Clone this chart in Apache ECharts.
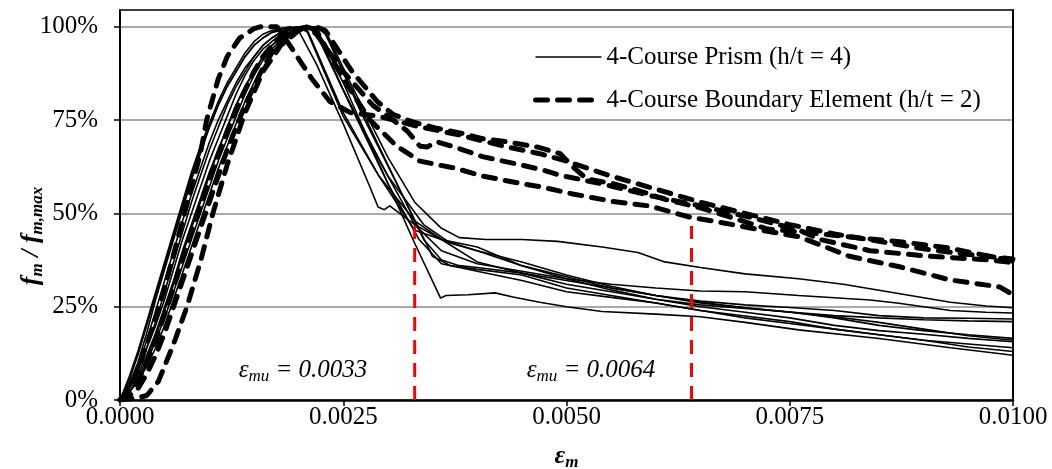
<!DOCTYPE html>
<html>
<head>
<meta charset="utf-8">
<script src="https://cdn.jsdelivr.net/npm/echarts@6/dist/echarts.min.js"></script>
<style>
  html, body { margin: 0; padding: 0; background: #fff; }
  #chart { width: 1052px; height: 469px; }
</style>
</head>
<body>
<div id="chart"></div>
<script>
// Axis ticks
const xTicks = [0, 0.0025, 0.005, 0.0075, 0.01];
const yTicks = [0, 0.25, 0.5, 0.75, 1];

const prismName = '4-Course Prism (h/t = 4)';
const boundaryName = '4-Course Boundary Element (h/t = 2)';

// Normalised stress–strain curves, 4-course prisms (h/t = 4): [strain, fm/fm,max]
const prism1 = [[0,0],[0.0001,0.04],[0.0002,0.1],[0.0003,0.18],[0.0004,0.27],[0.0005,0.35],[0.0006,0.43],[0.0007,0.51],[0.0008,0.59],[0.0009,0.66],[0.001,0.73],[0.0011,0.79],[0.0012,0.84],[0.0013,0.88],[0.0014,0.92],[0.0015,0.95],[0.0016,0.97],[0.0017,0.985],[0.0018,0.995],[0.0019,1.0],[0.002,0.99],[0.0022,0.9],[0.0025,0.74],[0.0028,0.57],[0.00289,0.517],[0.00296,0.51],[0.00302,0.52],[0.0033,0.47],[0.0036,0.43],[0.004,0.37],[0.0045,0.34],[0.005,0.32],[0.0055,0.3],[0.006,0.28],[0.0065,0.262],[0.007,0.247],[0.0075,0.235],[0.008,0.223],[0.0085,0.208],[0.009,0.19],[0.0095,0.172],[0.01,0.16]];
const prism2 = [[0,0],[0.0001,0.02],[0.0002,0.05],[0.0003,0.09],[0.0004,0.14],[0.0005,0.2],[0.0006,0.27],[0.0007,0.34],[0.0008,0.41],[0.0009,0.48],[0.001,0.55],[0.0011,0.62],[0.0012,0.68],[0.0013,0.74],[0.0014,0.8],[0.0015,0.85],[0.0016,0.89],[0.0017,0.93],[0.0018,0.96],[0.0019,0.98],[0.002,0.99],[0.0021,1.0],[0.0022,0.995],[0.0025,0.85],[0.003,0.58],[0.0033,0.42],[0.00359,0.273],[0.00365,0.28],[0.0039,0.282],[0.0042,0.287],[0.0044,0.276],[0.0047,0.262],[0.005,0.25],[0.0054,0.237],[0.006,0.23],[0.0065,0.223],[0.007,0.208],[0.0076,0.188],[0.0085,0.165],[0.0093,0.14],[0.01,0.12]];
const prism3 = [[0,0],[0.0001,0.03],[0.0002,0.07],[0.0003,0.12],[0.0004,0.18],[0.0005,0.25],[0.0006,0.32],[0.0007,0.4],[0.0008,0.47],[0.0009,0.54],[0.001,0.61],[0.0011,0.67],[0.0012,0.73],[0.0013,0.79],[0.0014,0.84],[0.0015,0.88],[0.0016,0.92],[0.0017,0.95],[0.0018,0.97],[0.0019,0.985],[0.002,0.995],[0.0022,1.0],[0.0023,0.99],[0.0026,0.84],[0.003,0.65],[0.0033,0.53],[0.0036,0.46],[0.0038,0.435],[0.0041,0.43],[0.0045,0.43],[0.0049,0.425],[0.0054,0.41],[0.0058,0.395],[0.0061,0.37],[0.0065,0.355],[0.007,0.338],[0.0076,0.325],[0.0081,0.31],[0.0086,0.29],[0.0093,0.262],[0.0097,0.252],[0.01,0.247]];
const prism4 = [[0,0],[0.0001,0.03],[0.0002,0.08],[0.0003,0.14],[0.0004,0.21],[0.0005,0.29],[0.0006,0.37],[0.0007,0.45],[0.0008,0.53],[0.0009,0.6],[0.001,0.67],[0.0011,0.73],[0.0012,0.79],[0.0013,0.84],[0.0014,0.88],[0.0015,0.92],[0.0016,0.95],[0.0017,0.97],[0.0018,0.985],[0.0019,0.995],[0.0021,1.0],[0.0022,0.99],[0.0025,0.83],[0.003,0.6],[0.0033,0.47],[0.0036,0.4],[0.004,0.365],[0.0045,0.345],[0.005,0.325],[0.0055,0.31],[0.006,0.3],[0.0065,0.292],[0.007,0.29],[0.0076,0.28],[0.0084,0.268],[0.0087,0.26],[0.0093,0.24],[0.0097,0.235],[0.01,0.233]];
const prism5 = [[0,0],[0.0001,0.04],[0.0002,0.09],[0.0003,0.16],[0.0004,0.24],[0.0005,0.32],[0.0006,0.4],[0.0007,0.48],[0.0008,0.55],[0.0009,0.62],[0.001,0.69],[0.0011,0.75],[0.0012,0.8],[0.0013,0.85],[0.0014,0.89],[0.0015,0.92],[0.0016,0.95],[0.0017,0.97],[0.0018,0.985],[0.0019,0.995],[0.0021,1.0],[0.0022,0.98],[0.0026,0.78],[0.003,0.6],[0.0034,0.47],[0.0037,0.42],[0.004,0.4],[0.0045,0.37],[0.005,0.335],[0.0055,0.305],[0.006,0.28],[0.0065,0.265],[0.007,0.255],[0.0075,0.248],[0.008,0.24],[0.0085,0.226],[0.009,0.22],[0.0095,0.219],[0.01,0.217]];
const prism6 = [[0,0],[0.0001,0.05],[0.0002,0.12],[0.0003,0.2],[0.0004,0.28],[0.0005,0.36],[0.0006,0.44],[0.0007,0.52],[0.0008,0.6],[0.0009,0.67],[0.001,0.73],[0.0011,0.79],[0.0012,0.84],[0.0013,0.88],[0.0014,0.92],[0.0015,0.95],[0.0016,0.97],[0.0017,0.985],[0.0019,0.995],[0.002,1.0],[0.0021,0.99],[0.0025,0.77],[0.0029,0.6],[0.0033,0.48],[0.0036,0.43],[0.004,0.41],[0.0045,0.36],[0.005,0.325],[0.0055,0.295],[0.006,0.27],[0.0065,0.25],[0.007,0.235],[0.0075,0.22],[0.008,0.2],[0.0085,0.186],[0.009,0.176],[0.0095,0.165],[0.01,0.156]];
const prism7 = [[0,0],[0.0001,0.02],[0.0002,0.06],[0.0003,0.11],[0.0004,0.17],[0.0005,0.24],[0.0006,0.31],[0.0007,0.39],[0.0008,0.46],[0.0009,0.53],[0.001,0.6],[0.0011,0.67],[0.0012,0.73],[0.0013,0.79],[0.0014,0.84],[0.0015,0.88],[0.0016,0.92],[0.0017,0.95],[0.0018,0.97],[0.0019,0.985],[0.002,0.995],[0.0022,1.0],[0.0023,0.985],[0.0027,0.77],[0.0031,0.58],[0.0034,0.43],[0.0036,0.375],[0.0038,0.36],[0.004,0.355],[0.0045,0.34],[0.005,0.31],[0.0055,0.29],[0.006,0.27],[0.0065,0.255],[0.007,0.245],[0.0075,0.236],[0.008,0.226],[0.0085,0.22],[0.009,0.215],[0.0095,0.212],[0.01,0.21]];
const prism8 = [[0,0],[0.0001,0.02],[0.0002,0.05],[0.0003,0.1],[0.0004,0.16],[0.0005,0.22],[0.0006,0.29],[0.0007,0.36],[0.0008,0.43],[0.0009,0.5],[0.001,0.57],[0.0011,0.64],[0.0012,0.7],[0.0013,0.76],[0.0014,0.82],[0.0015,0.87],[0.0016,0.91],[0.0017,0.94],[0.0018,0.965],[0.0019,0.98],[0.002,0.99],[0.0022,1.0],[0.0023,0.98],[0.0027,0.78],[0.0031,0.58],[0.0035,0.385],[0.0037,0.36],[0.004,0.35],[0.0045,0.335],[0.005,0.3],[0.0055,0.28],[0.006,0.26],[0.0065,0.24],[0.007,0.225],[0.0075,0.21],[0.008,0.19],[0.0085,0.175],[0.009,0.16],[0.0095,0.15],[0.01,0.14]];
const prism9 = [[0,0],[0.0001,0.03],[0.0002,0.08],[0.0003,0.14],[0.0004,0.2],[0.0005,0.27],[0.0006,0.35],[0.0007,0.43],[0.0008,0.5],[0.0009,0.57],[0.001,0.64],[0.0011,0.7],[0.0012,0.76],[0.0013,0.82],[0.0014,0.87],[0.0015,0.91],[0.0016,0.94],[0.0017,0.96],[0.0018,0.98],[0.0019,0.99],[0.0021,1.0],[0.0022,0.985],[0.0026,0.78],[0.003,0.58],[0.00335,0.43],[0.0036,0.365],[0.004,0.345],[0.0045,0.32],[0.005,0.29],[0.0055,0.275],[0.006,0.26],[0.0065,0.24],[0.007,0.22],[0.0075,0.205],[0.008,0.19],[0.0085,0.175],[0.009,0.16],[0.0095,0.142],[0.01,0.13]];
const prism10 = [[0,0],[0.0001,0.06],[0.0002,0.13],[0.0003,0.21],[0.0004,0.29],[0.0005,0.37],[0.0006,0.45],[0.0007,0.53],[0.0008,0.61],[0.0009,0.68],[0.001,0.74],[0.0011,0.8],[0.0012,0.85],[0.0013,0.89],[0.0014,0.93],[0.0015,0.96],[0.0016,0.98],[0.0017,0.99],[0.0018,0.995],[0.002,1.0],[0.0021,0.985],[0.0025,0.76],[0.0029,0.6],[0.0033,0.455],[0.0036,0.43],[0.004,0.4],[0.0045,0.36],[0.005,0.33],[0.0055,0.3],[0.006,0.28],[0.0065,0.26],[0.007,0.247],[0.0075,0.236],[0.008,0.22],[0.0085,0.2],[0.009,0.186],[0.0095,0.175],[0.01,0.165]];

// Normalised stress–strain curves, 4-course boundary elements (h/t = 2)
const boundary1 = [[0,0],[0.0001,0.01],[0.0002,0.03],[0.0003,0.07],[0.0004,0.12],[0.0005,0.18],[0.0006,0.25],[0.0007,0.32],[0.0008,0.39],[0.0009,0.46],[0.001,0.53],[0.0011,0.6],[0.0012,0.67],[0.0013,0.73],[0.0014,0.79],[0.0015,0.84],[0.0016,0.89],[0.0017,0.93],[0.0018,0.96],[0.0019,0.98],[0.002,0.995],[0.0022,1.0],[0.0023,0.99],[0.0026,0.88],[0.00288,0.8],[0.00306,0.765],[0.00328,0.745],[0.00355,0.728],[0.00384,0.714],[0.00406,0.7],[0.00433,0.692],[0.00467,0.678],[0.00493,0.66],[0.00507,0.625],[0.00523,0.592],[0.00552,0.58],[0.00582,0.56],[0.00613,0.536],[0.0065,0.515],[0.00686,0.488],[0.00725,0.458],[0.00773,0.448],[0.00817,0.437],[0.00873,0.424],[0.00929,0.407],[0.00974,0.385],[0.01,0.372]];
const boundary2 = [[0,0],[0.0001,0.02],[0.0002,0.05],[0.0003,0.1],[0.0004,0.16],[0.0005,0.23],[0.0006,0.3],[0.0007,0.38],[0.0008,0.45],[0.0009,0.52],[0.001,0.59],[0.0011,0.66],[0.0012,0.72],[0.0013,0.78],[0.0014,0.83],[0.0015,0.88],[0.0016,0.92],[0.0017,0.95],[0.0018,0.975],[0.0019,0.99],[0.0021,1.0],[0.0022,0.98],[0.0025,0.88],[0.00283,0.79],[0.00306,0.75],[0.00322,0.72],[0.00336,0.68],[0.00344,0.678],[0.00355,0.692],[0.00377,0.676],[0.00406,0.652],[0.00445,0.632],[0.00474,0.616],[0.00493,0.602],[0.00538,0.58],[0.00593,0.548],[0.0065,0.52],[0.00705,0.49],[0.00761,0.455],[0.00784,0.43],[0.0084,0.4],[0.00907,0.385],[0.00974,0.375],[0.01,0.368]];
const boundary3 = [[0,0],[0.0001,0.003],[0.0002,0.006],[0.0003,0.012],[0.00043,0.05],[0.0006,0.15],[0.00075,0.25],[0.0009,0.37],[0.00104,0.5],[0.0012,0.63],[0.0014,0.77],[0.0016,0.88],[0.0018,0.95],[0.002,0.99],[0.0021,1.0],[0.0022,0.99],[0.0025,0.86],[0.0028,0.75],[0.0031,0.68],[0.00336,0.64],[0.00377,0.62],[0.00406,0.6],[0.00445,0.582],[0.00474,0.57],[0.00507,0.552],[0.00552,0.532],[0.00593,0.52],[0.00638,0.49],[0.00686,0.47],[0.00725,0.452],[0.00761,0.437],[0.00817,0.385],[0.00873,0.357],[0.00929,0.322],[0.00985,0.303],[0.01,0.282]];
const boundary4 = [[0,0],[0.0001,0.03],[0.0002,0.08],[0.0003,0.15],[0.0004,0.22],[0.0005,0.3],[0.0006,0.39],[0.0007,0.48],[0.0008,0.57],[0.0009,0.66],[0.00097,0.75],[0.0011,0.86],[0.0012,0.92],[0.00134,0.97],[0.0015,0.995],[0.00157,1.0],[0.00176,1.0],[0.00193,0.94],[0.00215,0.86],[0.00235,0.8],[0.00258,0.77],[0.0029,0.76],[0.0033,0.735],[0.0038,0.71],[0.0043,0.68],[0.0047,0.66],[0.005,0.64],[0.0055,0.6],[0.006,0.565],[0.0065,0.53],[0.007,0.5],[0.0075,0.47],[0.008,0.445],[0.0085,0.425],[0.009,0.405],[0.0095,0.39],[0.01,0.378]];

// Ultimate strain markers
const limitStrains = [0.0033, 0.0064];
const limitLevels = [0.466, 0.466];
const limitLabels = ['0.0033', '0.0064'];

const prismCurves = [prism1, prism2, prism3, prism4, prism5, prism6, prism7, prism8, prism9, prism10];
const boundaryCurves = [boundary1, boundary2, boundary3, boundary4];

const FONT = "'Liberation Serif', 'Times New Roman', serif";

const prismLine = { color: '#000', width: 1.6 };
const boundaryLine = { color: '#000', width: 5, type: [12, 10], cap: 'round' };

const series = [];
prismCurves.forEach(d => series.push({
  type: 'line', name: prismName, data: d, symbol: 'none', silent: true, z: 3,
  itemStyle: { color: '#000' }, lineStyle: prismLine
}));
boundaryCurves.forEach(d => series.push({
  type: 'line', name: boundaryName, data: d, symbol: 'none', silent: true, z: 4,
  itemStyle: { color: '#000' }, lineStyle: boundaryLine
}));
limitStrains.forEach((s, i) => series.push({
  type: 'line', name: 'limit' + i, data: [[s, 0], [s, limitLevels[i]]], symbol: 'none', silent: true, z: 5,
  lineStyle: { color: '#ff0000', width: 3, type: [14, 9] }
}));

const eRich = {
  e: { fontFamily: FONT, fontStyle: 'italic', fontSize: 25, fill: '#000', lineHeight: 30 },
  s: { fontFamily: FONT, fontStyle: 'italic', fontSize: 17, fill: '#000', lineHeight: 14, verticalAlign: 'bottom' }
};

const chart = echarts.init(document.getElementById('chart'), null, { renderer: 'canvas' });
chart.setOption({
  animation: false,
  backgroundColor: '#fff',
  grid: { left: 120, right: 39, top: 10, bottom: 69, containLabel: false, outerBoundsMode: 'none' },
  legend: {
    left: 533, top: 42, orient: 'vertical', padding: 0,
    itemWidth: 66, itemHeight: 14, itemGap: 13,
    selectedMode: false,
    itemStyle: { opacity: 0 },
    data: [
      { name: prismName, lineStyle: { color: '#000', width: 1.6, type: 'solid' } },
      { name: boundaryName, lineStyle: { color: '#000', width: 5, type: [12, 10], cap: 'round' } }
    ],
    textStyle: { fontFamily: FONT, fontSize: 25, color: '#000', lineHeight: 30 }
  },
  xAxis: [{
    type: 'value', min: xTicks[0], max: xTicks[xTicks.length - 1], interval: xTicks[1] - xTicks[0],
    position: 'bottom',
    axisLine: { show: true, onZero: false, lineStyle: { color: '#000', width: 2.5 } },
    axisTick: { show: true, inside: false, length: 6, lineStyle: { color: '#000', width: 1.5 } },
    axisLabel: { formatter: v => v.toFixed(4), fontFamily: FONT, fontSize: 25, color: '#000', margin: 5 },
    splitLine: { show: false },
    name: '{e|ε}{s|m}', nameLocation: 'middle', nameGap: 41,
    nameTextStyle: {
      rich: {
        e: { fontFamily: FONT, fontStyle: 'italic', fontWeight: 'bold', fontSize: 26, color: '#000', lineHeight: 30 },
        s: { fontFamily: FONT, fontStyle: 'italic', fontWeight: 'bold', fontSize: 17, color: '#000', lineHeight: 14, verticalAlign: 'bottom' }
      }
    }
  }, {
    type: 'value', min: xTicks[0], max: xTicks[xTicks.length - 1], position: 'top',
    axisLine: { show: true, onZero: false, lineStyle: { color: '#000', width: 1.5 } },
    axisTick: { show: false }, axisLabel: { show: false }, splitLine: { show: false }, z: 10
  }],
  yAxis: [{
    type: 'value', min: 0, max: 1.045, interval: 0.25,
    axisLine: { show: true, onZero: false, lineStyle: { color: '#000', width: 2 } },
    axisTick: { show: true, inside: false, length: 6, customValues: yTicks, lineStyle: { color: '#000', width: 1.5 } },
    axisLabel: { customValues: yTicks, formatter: v => Math.round(v * 100) + '%', fontFamily: FONT, fontSize: 25, color: '#000', margin: 22 },
    splitLine: { show: true, lineStyle: { color: '#8c8c8c', width: 1.5 } }
  }, {
    type: 'value', min: 0, max: 1.045, position: 'right',
    axisLine: { show: true, onZero: false, lineStyle: { color: '#000', width: 2 } },
    axisTick: { show: false }, axisLabel: { show: false }, splitLine: { show: false }, z: 10
  }],
  graphic: [
    {
      type: 'text', x: 31, y: 236, rotation: Math.PI / 2, silent: true,
      style: {
        text: '{f|f}{s|m}{f| / f}{s|m,max}',
        align: 'center', verticalAlign: 'middle',
        rich: {
          f: { fontFamily: FONT, fontStyle: 'italic', fontWeight: 'bold', fontSize: 26, fill: '#000', lineHeight: 30 },
          s: { fontFamily: FONT, fontStyle: 'italic', fontWeight: 'bold', fontSize: 17, fill: '#000', lineHeight: 14, verticalAlign: 'bottom' }
        }
      }
    },
    {
      type: 'text', x: 303, y: 370, silent: true,
      style: { text: '{e|ε}{s|mu}{e| = ' + limitLabels[0] + '}', align: 'center', verticalAlign: 'middle', rich: eRich }
    },
    {
      type: 'text', x: 591, y: 370, silent: true,
      style: { text: '{e|ε}{s|mu}{e| = ' + limitLabels[1] + '}', align: 'center', verticalAlign: 'middle', rich: eRich }
    }
  ],
  series: series
});
</script>
</body>
</html>
